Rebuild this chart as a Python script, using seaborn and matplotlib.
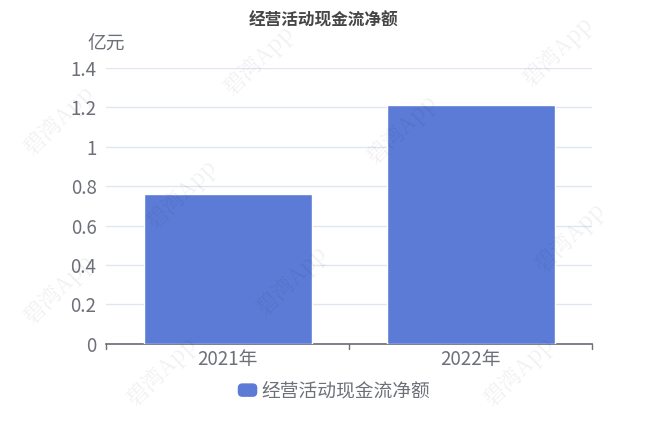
import matplotlib
matplotlib.use("Agg")
import matplotlib.pyplot as plt
from matplotlib.patches import FancyBboxPatch
import seaborn as sns
import pandas as pd

years = ["2021年", "2022年"]
values = [0.76, 1.21]
series_name = "经营活动现金流净额"
title = "经营活动现金流净额"
unit = "亿元"
yticks = [0, 0.2, 0.4, 0.6, 0.8, 1, 1.2, 1.4]

sns.set_theme(style="white")
plt.rcParams['font.family'] = ['Noto Sans CJK SC', 'DejaVu Sans']

bar_color = "#5b7bd7"
text_gray = "#6e7079"

df = pd.DataFrame({"year": years, "value": values})

fig = plt.figure(figsize=(6.48, 4.32), dpi=100)
ax = fig.add_axes([0.164, 0.204, 0.750, 0.639])

sns.barplot(data=df, x="year", y="value", color=bar_color, width=0.69,
            saturation=1, ax=ax, zorder=3)

ax.set_ylim(0, 1.4)
ax.set_xlim(-0.5, 1.5)
ax.set_yticks(yticks)
ax.set_yticklabels([f"{t:g}" for t in yticks])
ax.yaxis.grid(True, color="#e0e6f1", linewidth=1, zorder=0)
ax.set_xlabel("")
ax.set_ylabel("")
for s in ["top", "right", "left"]:
    ax.spines[s].set_visible(False)
ax.spines["bottom"].set_color(text_gray)
ax.tick_params(axis="y", length=0, labelsize=13.5, labelcolor=text_gray, pad=7)
ax.tick_params(axis="x", length=0, labelsize=13.5, labelcolor=text_gray, pad=4)
# category boundary ticks
for xb in [-0.5, 0.5, 1.5]:
    ax.plot([xb, xb], [0, -0.025], color=text_gray, lw=1, clip_on=False)

fig.text(0.5, 0.953, title, ha="center", va="center", fontsize=12,
         fontweight="bold", color="#464646")
fig.text(0.135, 0.897, unit, ha="left", va="center", fontsize=13.5,
         color=text_gray)

# legend
patch = FancyBboxPatch((0.368, 0.083), 0.028, 0.028,
                       boxstyle="round,pad=0,rounding_size=0.006",
                       transform=fig.transFigure, color=bar_color,
                       mutation_aspect=648 / 432)
fig.patches.append(patch)
fig.text(0.403, 0.095, series_name, ha="left", va="center", fontsize=13.5,
         color=text_gray)

# faint watermark
marks = [(0.09, 0.72), (0.40, 0.86), (0.86, 0.88), (0.09, 0.33), (0.28, 0.55),
         (0.62, 0.70), (0.88, 0.45), (0.45, 0.35), (0.80, 0.14), (0.25, 0.14)]
for mx, my in marks:
    fig.text(mx, my, "碧湾App", rotation=45, fontsize=16, color="#000000",
             alpha=0.06, ha="center", va="center",
             family=["Noto Serif CJK SC", "Noto Sans CJK SC", "DejaVu Sans"])

fig.savefig("out.png", dpi=100)
